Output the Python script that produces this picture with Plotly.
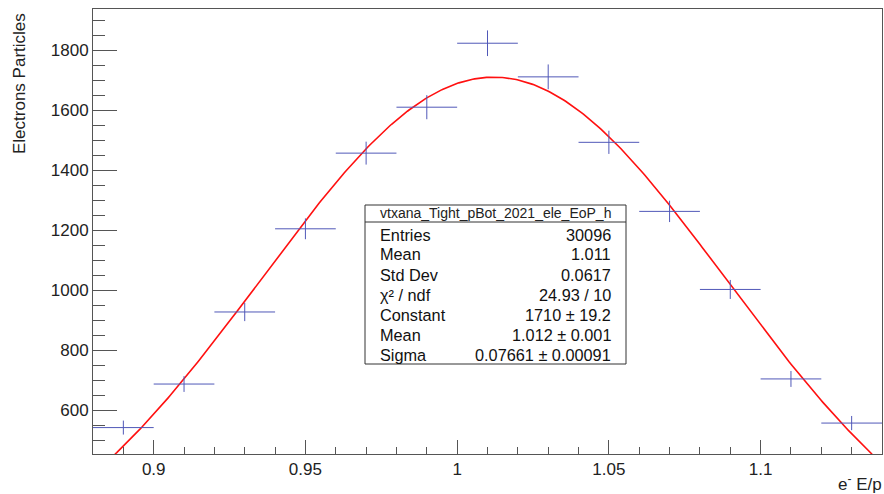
import numpy as np
import plotly.graph_objects as go

# ---- data ----
bin_centers = [0.89, 0.91, 0.93, 0.95, 0.97, 0.99, 1.01, 1.03, 1.05, 1.07, 1.09, 1.11, 1.13]
counts = [543, 688, 928, 1205, 1457, 1610, 1823, 1711, 1493, 1263, 1003, 705, 558]
bin_halfwidth = 0.01

fit_constant = 1710.0
fit_mean = 1.012
fit_sigma = 0.07661

stats_title = "vtxana_Tight_pBot_2021_ele_EoP_h"
stats_labels = ["Entries", "Mean", "Std Dev", "χ² / ndf", "Constant", "Mean", "Sigma"]
stats_values = ["30096", "1.011", "0.0617", "24.93 / 10", "1710 ± 19.2", "1.012 ± 0.001", "0.07661 ± 0.00091"]

x_tickvals = [0.9, 0.95, 1.0, 1.05, 1.1]
x_ticktext = ["0.9", "0.95", "1", "1.05", "1.1"]
y_tickvals = [600, 800, 1000, 1200, 1400, 1600, 1800]

X_RANGE = [0.88, 1.14]
Y_RANGE = [455, 1937]

W, H = 884, 494
ML, MR, MT, MB = 93, 2, 9, 40
PW, PH = W - ML - MR, H - MT - MB

def px(x):
    return (x - ML) / PW

def py(y):
    return (H - MB - y) / PH

FONT = "Liberation Sans, Arial, Helvetica, sans-serif"

fig = go.Figure()

# fit curve (Gaussian with the fitted parameters)
xf = np.linspace(X_RANGE[0], X_RANGE[1], 400)
yf = fit_constant * np.exp(-0.5 * ((xf - fit_mean) / fit_sigma) ** 2)
fig.add_trace(go.Scatter(x=xf, y=yf, mode="lines",
                         line=dict(color="#ff1010", width=1.6),
                         hoverinfo="skip", showlegend=False))

# histogram points with errors
errs = np.sqrt(np.array(counts, dtype=float))
fig.add_trace(go.Scatter(
    x=bin_centers, y=counts, mode="markers",
    marker=dict(size=1, color="rgba(0,0,0,0)"),
    error_x=dict(type="constant", value=bin_halfwidth, color="#5058b8", thickness=1, width=0),
    error_y=dict(type="data", array=errs, color="#5058b8", thickness=1, width=0),
    showlegend=False))

axis_common = dict(showgrid=False, zeroline=False, showline=True, linecolor="#555",
                   linewidth=1, mirror=True, ticks="inside", tickcolor="#555",
                   tickfont=dict(family=FONT, size=17, color="#222"))

fig.update_xaxes(range=X_RANGE, tickvals=x_tickvals, ticktext=x_ticktext,
                 ticklen=14, tickwidth=1,
                 minor=dict(ticks="inside", ticklen=7, dtick=0.01, tick0=0.88, tickcolor="#555"),
                 **axis_common)
fig.update_yaxes(range=Y_RANGE, tickvals=y_tickvals, ticklen=24, tickwidth=1,
                 minor=dict(ticks="inside", ticklen=12, dtick=50, tick0=0, tickcolor="#555"),
                 **axis_common)

# axis titles
fig.add_annotation(text="Electrons Particles", textangle=-90, xref="paper", yref="paper",
                   x=px(20), y=py(84), xanchor="center", yanchor="middle", showarrow=False,
                   font=dict(family=FONT, size=17, color="#222"))
fig.add_annotation(text="e<sup>-</sup> E/p", xref="paper", yref="paper",
                   x=px(884), y=py(483), xanchor="right", yanchor="middle", showarrow=False,
                   font=dict(family=FONT, size=17, color="#222"))

# stats box
bx0, bx1, by0, by1 = 365, 626, 205, 364
line_y = 222
fig.add_shape(type="rect", xref="paper", yref="paper",
              x0=px(bx0), x1=px(bx1), y0=py(by1), y1=py(by0),
              line=dict(color="#333", width=1), fillcolor="white", layer="above")
fig.add_shape(type="line", xref="paper", yref="paper",
              x0=px(bx0), x1=px(bx1), y0=py(line_y), y1=py(line_y),
              line=dict(color="#333", width=1), layer="above")
fig.add_annotation(text=stats_title, xref="paper", yref="paper",
                   x=px((bx0 + bx1) / 2), y=py(213.5), xanchor="center", yanchor="middle",
                   showarrow=False, font=dict(family=FONT, size=14, color="#222"))
row_y0, row_dy = 234.5, 20
for i, (lab, val) in enumerate(zip(stats_labels, stats_values)):
    yy = py(row_y0 + i * row_dy)
    fig.add_annotation(text=lab, xref="paper", yref="paper", x=px(378), y=yy,
                       xanchor="left", yanchor="middle", showarrow=False,
                       font=dict(family=FONT, size=16.3, color="#111"))
    fig.add_annotation(text=val, xref="paper", yref="paper", x=px(613), y=yy,
                       xanchor="right", yanchor="middle", showarrow=False,
                       font=dict(family=FONT, size=16.3, color="#111"))

fig.update_layout(width=W, height=H, margin=dict(l=ML, r=MR, t=MT, b=MB),
                  plot_bgcolor="white", paper_bgcolor="white", showlegend=False)

fig.write_html("out.html")
